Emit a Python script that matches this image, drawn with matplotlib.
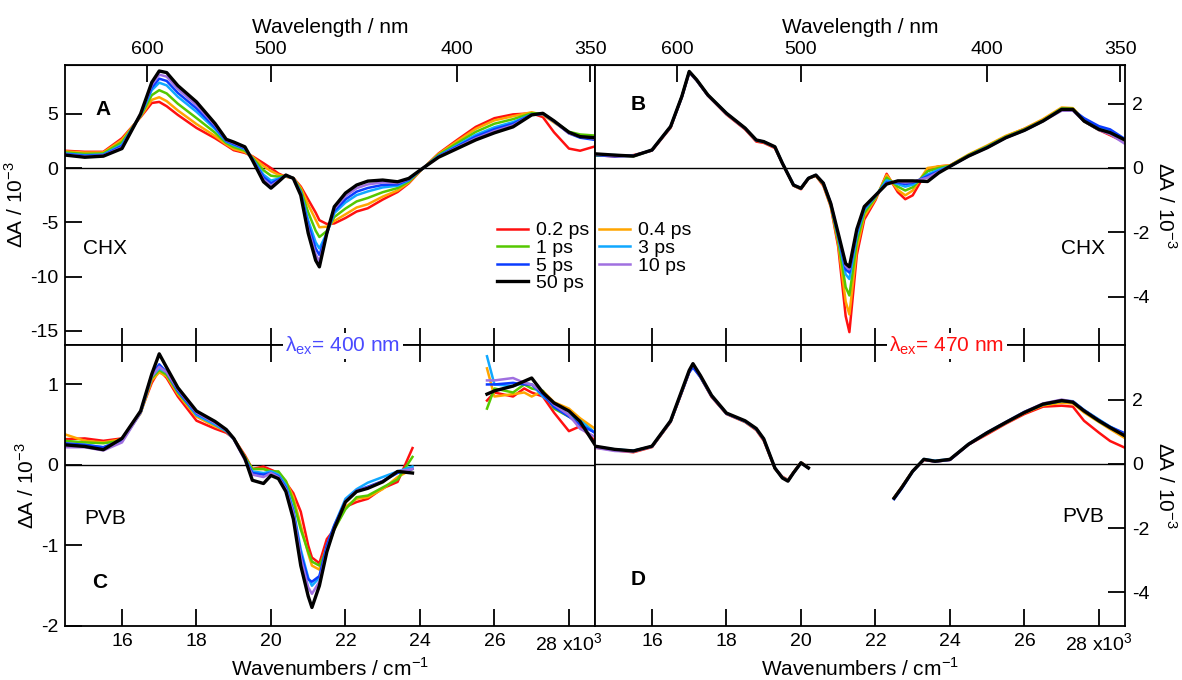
import numpy as np
import matplotlib
matplotlib.use("Agg")
from matplotlib import pyplot as plt

plt.rcParams['font.family'] = ['Liberation Sans', 'DejaVu Sans']
plt.rcParams['axes.unicode_minus'] = False
plt.rcParams['font.size'] = 13

nan = np.nan
delays = ['0.2 ps', '0.4 ps', '1 ps', '3 ps', '5 ps', '10 ps', '50 ps']
colors = ['#ff1010', '#ffa500', '#55c800', '#10a8ff', '#0a3cff', '#a070e0', '#000000']

# wavenumbers in 10^3 cm^-1
nu_A = [14.47, 15.0, 15.5, 16.0, 16.5, 16.8, 17.0, 17.2, 17.5, 18.0, 18.5, 18.8, 19.0, 19.3, 19.5,
        19.8, 20.0, 20.2, 20.4, 20.6, 20.8, 21.0, 21.2, 21.3, 21.5, 21.7, 22.0, 22.3, 22.6, 23.0,
        23.4, 23.7, 24.0, 24.5, 25.0, 25.5, 26.0, 26.5, 27.0, 27.3, 27.6, 28.0, 28.3, 28.7]
A_02 = [1.6, 1.5, 1.5, 2.75, 4.7, 6.0, 6.1, 5.7, 4.9, 3.7, 2.75, 2.1, 1.65, 1.4, 1.1, 0.45, 0.0, -0.5,
        -0.8, -0.9, -1.7, -2.9, -4.1, -4.8, -5.15, -5.1, -4.6, -4.0, -3.7, -2.9, -2.2, -1.4, -0.3, 1.35,
        2.6, 3.8, 4.6, 4.95, 5.05, 4.7, 3.3, 1.8, 1.6, 2.0]
A_04 = [1.54, 1.43, 1.44, 2.61, 4.75, 6.29, 6.53, 6.17, 5.31, 4.06, 2.95, 2.18, 1.76, 1.48, 1.05, 0.19,
        -0.28, -0.61, -0.78, -0.91, -1.82, -3.37, -4.76, -5.45, -5.40, -4.87, -4.26, -3.63, -3.33, -2.63,
        -2.06, -1.33, -0.28, 1.30, 2.48, 3.62, 4.40, 4.78, 5.15, 4.90, 4.20, 3.30, 3.00, 2.90]
A_1 = [1.45, 1.31, 1.35, 2.39, 4.81, 6.72, 7.18, 6.88, 5.93, 4.61, 3.26, 2.31, 1.94, 1.61, 0.96, -0.20,
       -0.70, -0.79, -0.74, -0.92, -2.00, -4.08, -5.77, -6.35, -5.80, -4.51, -3.73, -3.07, -2.75, -2.22,
       -1.84, -1.23, -0.26, 1.22, 2.30, 3.34, 4.09, 4.51, 5.05, 5.05, 4.30, 3.35, 3.10, 3.00]
A_3 = [1.35, 1.19, 1.25, 2.16, 4.89, 7.18, 7.87, 7.62, 6.57, 5.19, 3.59, 2.44, 2.12, 1.75, 0.88, -0.61,
       -1.15, -0.97, -0.70, -0.93, -2.20, -4.82, -6.83, -7.40, -6.00, -4.15, -3.17, -2.49, -2.15, -1.78,
       -1.62, -1.12, -0.24, 1.13, 2.10, 3.06, 3.76, 4.24, 4.95, 5.00, 4.30, 3.30, 2.90, 2.70]
A_5 = [1.30, 1.13, 1.20, 2.04, 4.93, 7.43, 8.24, 8.03, 6.93, 5.50, 3.76, 2.51, 2.21, 1.82, 0.83, -0.83,
       -1.39, -1.07, -0.68, -0.94, -2.30, -5.23, -7.40, -8.00, -6.00, -3.95, -2.88, -2.17, -1.83, -1.55,
       -1.50, -1.06, -0.23, 1.09, 2.00, 2.90, 3.59, 4.09, 4.93, 5.00, 4.30, 3.20, 2.80, 2.60]
A_10 = [1.25, 1.06, 1.15, 1.91, 4.96, 7.67, 8.61, 8.43, 7.28, 5.81, 3.94, 2.58, 2.31, 1.89, 0.78, -1.05,
        -1.63, -1.17, -0.66, -0.94, -2.40, -5.63, -7.97, -8.58, -6.00, -3.75, -2.58, -1.85, -1.50, -1.32,
        -1.37, -1.00, -0.21, 1.04, 1.90, 2.74, 3.41, 3.94, 4.90, 5.00, 4.30, 3.20, 2.90, 2.70]
A_50 = [1.2, 1.0, 1.1, 1.8, 5.0, 7.9, 8.95, 8.8, 7.6, 6.1, 4.1, 2.65, 2.4, 1.96, 0.74, -1.26, -1.85, -1.26,
        -0.64, -0.95, -2.5, -6.0, -8.5, -9.1, -6.0, -3.56, -2.3, -1.56, -1.2, -1.1, -1.26, -0.95, -0.2, 1.0,
        1.8, 2.6, 3.25, 3.8, 4.9, 5.05, 4.35, 3.3, 2.9, 2.8]

nu_B = [14.47, 15.0, 15.5, 16.0, 16.5, 16.8, 17.0, 17.2, 17.5, 18.0, 18.5, 18.8, 19.0, 19.3, 19.5,
        19.8, 20.0, 20.2, 20.4, 20.6, 20.8, 21.0, 21.2, 21.3, 21.5, 21.7, 22.0, 22.3, 22.6, 22.8,
        23.0, 23.4, 23.7, 24.0, 24.5, 25.0, 25.5, 26.0, 26.5, 27.0, 27.3, 27.6, 28.0, 28.3, 28.7]
B_02 = [0.40, 0.36, 0.40, 0.54, 1.25, 2.20, 2.97, 2.72, 2.25, 1.66, 1.20, 0.82, 0.78, 0.62, 0.14, -0.55,
        -0.66, -0.33, -0.24, -0.55, -1.20, -2.45, -4.60, -5.10, -2.70, -1.60, -1.00, -0.18, -0.75, -0.97,
        -0.85, -0.05, 0.05, 0.08, 0.40, 0.68, 0.98, 1.22, 1.50, 1.85, 1.84, 1.45, 1.18, 1.02, 0.80]
B_04 = [0.42, 0.38, 0.38, 0.55, 1.27, 2.21, 2.98, 2.73, 2.26, 1.68, 1.22, 0.85, 0.80, 0.64, 0.15, -0.54,
        -0.65, -0.33, -0.23, -0.52, -1.18, -2.35, -4.15, -4.55, -2.50, -1.50, -0.96, -0.22, -0.68, -0.85,
        -0.70, 0.00, 0.05, 0.08, 0.42, 0.70, 1.00, 1.22, 1.52, 1.88, 1.86, 1.50, 1.22, 1.05, 0.82]
B_1 = [0.38, 0.40, 0.36, 0.55, 1.28, 2.22, 2.99, 2.74, 2.27, 1.69, 1.23, 0.86, 0.81, 0.65, 0.15, -0.54,
       -0.64, -0.32, -0.23, -0.50, -1.15, -2.25, -3.70, -3.96, -2.30, -1.40, -0.92, -0.30, -0.58, -0.70,
       -0.60, -0.10, 0.00, 0.07, 0.40, 0.67, 0.97, 1.20, 1.48, 1.85, 1.84, 1.45, 1.18, 1.12, 0.85]
B_3 = [0.42, 0.40, 0.38, 0.56, 1.28, 2.20, 2.98, 2.72, 2.26, 1.70, 1.23, 0.86, 0.82, 0.65, 0.15, -0.53,
       -0.64, -0.32, -0.22, -0.48, -1.12, -2.15, -3.30, -3.45, -2.10, -1.30, -0.88, -0.38, -0.50, -0.58,
       -0.52, -0.20, -0.05, 0.05, 0.38, 0.65, 0.95, 1.18, 1.47, 1.83, 1.82, 1.50, 1.25, 1.15, 0.85]
B_5 = [0.40, 0.36, 0.38, 0.55, 1.28, 2.21, 2.99, 2.73, 2.26, 1.69, 1.23, 0.86, 0.81, 0.65, 0.15, -0.53,
       -0.63, -0.32, -0.22, -0.47, -1.10, -2.10, -3.15, -3.25, -2.00, -1.25, -0.87, -0.45, -0.45, -0.50,
       -0.46, -0.25, -0.10, 0.05, 0.37, 0.64, 0.94, 1.17, 1.46, 1.82, 1.80, 1.55, 1.30, 1.20, 0.90]
B_10 = [0.42, 0.38, 0.37, 0.55, 1.28, 2.20, 2.96, 2.72, 2.25, 1.68, 1.22, 0.86, 0.81, 0.65, 0.15, -0.53,
        -0.63, -0.32, -0.22, -0.47, -1.10, -2.07, -3.05, -3.15, -1.95, -1.22, -0.86, -0.48, -0.42, -0.45,
        -0.43, -0.30, -0.12, 0.05, 0.37, 0.63, 0.94, 1.17, 1.46, 1.78, 1.78, 1.45, 1.18, 1.05, 0.75]
B_50 = [0.44, 0.40, 0.37, 0.56, 1.29, 2.22, 3.00, 2.74, 2.27, 1.70, 1.24, 0.87, 0.82, 0.66, 0.15, -0.53,
        -0.63, -0.32, -0.22, -0.47, -1.10, -2.03, -2.97, -3.07, -1.90, -1.20, -0.85, -0.50, -0.40, -0.40,
        -0.40, -0.42, -0.15, 0.05, 0.37, 0.63, 0.94, 1.17, 1.46, 1.82, 1.82, 1.46, 1.20, 1.10, 0.87]

nu_C = [14.47, 15.0, 15.5, 16.0, 16.5, 16.8, 17.0, 17.2, 17.5, 18.0, 18.5, 18.8, 19.0, 19.3, 19.5,
        19.8, 20.0, 20.2, 20.4, 20.6, 20.8, 21.0, 21.1, 21.3, 21.5, 21.7, 22.0, 22.3, 22.6, 23.0,
        23.4, 23.8, 24.8, 25.8, 26.0, 26.5, 26.8, 27.0, 27.3, 27.6, 28.0, 28.3, 28.7]
C_02 = [0.32, 0.33, 0.30, 0.33, 0.66, 1.02, 1.18, 1.08, 0.85, 0.55, 0.45, 0.40, 0.33, 0.12, -0.05, -0.02,
        -0.06, -0.10, -0.22, -0.35, -0.58, -1.00, -1.15, -1.22, -0.92, -0.80, -0.52, -0.46, -0.42, -0.29,
        -0.21, 0.21, nan, 0.80, 0.90, 0.85, 0.95, 0.90, 0.85, 0.65, 0.42, 0.48, 0.30]
C_04 = [0.38, 0.30, 0.28, 0.32, 0.64, 1.05, 1.15, 1.10, 0.88, 0.60, 0.48, 0.42, 0.33, 0.10, -0.05, -0.05,
        -0.08, -0.10, -0.20, -0.40, -0.75, -1.10, -1.25, -1.30, -1.00, -0.78, -0.52, -0.42, -0.40, -0.30,
        -0.15, -0.05, nan, 1.20, 0.85, 0.88, 0.90, 0.85, 0.92, 0.78, 0.70, 0.58, 0.45]
C_1 = [0.30, 0.28, 0.27, 0.30, 0.65, 1.08, 1.18, 1.12, 0.90, 0.62, 0.50, 0.42, 0.33, 0.10, -0.05, -0.05,
       -0.08, -0.08, -0.20, -0.45, -0.80, -1.08, -1.20, -1.25, -1.05, -0.80, -0.55, -0.40, -0.38, -0.28,
       -0.18, 0.10, nan, 0.70, 0.95, 0.90, 1.00, 0.95, 0.92, 0.70, 0.60, 0.55, 0.40]
C_3 = [0.25, 0.25, 0.22, 0.30, 0.65, 1.10, 1.20, 1.15, 0.92, 0.62, 0.50, 0.42, 0.32, 0.08, -0.08, -0.10,
       -0.08, -0.12, -0.25, -0.55, -1.05, -1.40, -1.50, -1.40, -1.00, -0.75, -0.42, -0.30, -0.22, -0.15,
       -0.08, -0.02, nan, 1.35, 1.00, 0.98, 1.02, 1.00, 0.85, 0.75, 0.62, 0.55, 0.40]
C_5 = [0.27, 0.25, 0.22, 0.31, 0.66, 1.12, 1.25, 1.15, 0.92, 0.64, 0.52, 0.43, 0.33, 0.08, -0.10, -0.12,
       -0.10, -0.14, -0.28, -0.58, -1.10, -1.42, -1.45, -1.38, -1.00, -0.75, -0.45, -0.32, -0.27, -0.20,
       -0.10, -0.05, nan, 1.00, 1.00, 1.02, 1.00, 1.00, 0.88, 0.72, 0.60, 0.50, 0.40]
C_10 = [0.22, 0.22, 0.18, 0.28, 0.65, 1.10, 1.22, 1.15, 0.94, 0.65, 0.52, 0.43, 0.32, 0.06, -0.12, -0.15,
        -0.10, -0.15, -0.30, -0.60, -1.15, -1.52, -1.60, -1.45, -1.05, -0.78, -0.45, -0.32, -0.28, -0.20,
        -0.08, -0.05, nan, 1.05, 1.05, 1.08, 1.02, 1.00, 0.90, 0.75, 0.62, 0.45, 0.35]
C_50 = [0.25, 0.23, 0.19, 0.33, 0.67, 1.13, 1.38, 1.21, 0.96, 0.67, 0.54, 0.44, 0.33, 0.08, -0.19, -0.23,
        -0.13, -0.17, -0.33, -0.67, -1.25, -1.63, -1.77, -1.50, -1.08, -0.79, -0.46, -0.33, -0.29, -0.21,
        -0.08, -0.10, nan, 0.88, 0.92, 0.98, 1.04, 1.08, 0.90, 0.77, 0.67, 0.54, 0.25]

nu_D = [14.47, 15.0, 15.5, 16.0, 16.5, 16.8, 17.0, 17.1, 17.3, 17.6, 18.0, 18.5, 18.8, 19.0, 19.3,
        19.5, 19.65, 19.8, 20.0, 20.2, 21.3, 22.5, 22.7, 23.0, 23.3, 23.6, 24.0, 24.5, 25.0, 25.5,
        26.0, 26.5, 27.0, 27.3, 27.6, 28.0, 28.3, 28.7]
D_02 = [0.52, 0.42, 0.36, 0.52, 1.30, 2.22, 2.85, 3.05, 2.70, 2.08, 1.55, 1.30, 1.05, 0.72, -0.15, -0.40,
        -0.50, -0.26, 0.05, -0.12, nan, -1.05, -0.73, -0.22, 0.12, 0.07, 0.12, 0.60, 0.92, 1.25, 1.55,
        1.78, 1.81, 1.78, 1.34, 0.97, 0.71, 0.50]
D_04 = [0.50, 0.44, 0.38, 0.53, 1.31, 2.24, 2.87, 3.07, 2.71, 2.10, 1.56, 1.31, 1.07, 0.75, -0.14, -0.42,
        -0.52, -0.27, 0.04, -0.12, nan, -1.06, -0.74, -0.22, 0.13, 0.08, 0.13, 0.61, 0.95, 1.27, 1.58,
        1.82, 1.90, 1.88, 1.60, 1.30, 1.08, 0.80]
D_1 = [0.52, 0.44, 0.40, 0.54, 1.32, 2.25, 2.88, 3.08, 2.72, 2.11, 1.57, 1.32, 1.08, 0.76, -0.14, -0.42,
       -0.52, -0.27, 0.04, -0.12, nan, -1.06, -0.74, -0.22, 0.14, 0.08, 0.13, 0.62, 0.96, 1.28, 1.60,
       1.84, 1.95, 1.92, 1.65, 1.32, 1.12, 0.88]
D_3 = [0.53, 0.45, 0.41, 0.54, 1.32, 2.25, 2.88, 3.06, 2.72, 2.12, 1.57, 1.32, 1.08, 0.76, -0.13, -0.43,
       -0.53, -0.28, 0.03, -0.12, nan, -1.08, -0.76, -0.23, 0.15, 0.10, 0.14, 0.62, 0.98, 1.30, 1.62,
       1.86, 1.97, 1.95, 1.68, 1.38, 1.16, 0.92]
D_5 = [0.54, 0.44, 0.40, 0.54, 1.32, 2.24, 2.85, 3.00, 2.70, 2.10, 1.56, 1.32, 1.08, 0.76, -0.13, -0.43,
       -0.53, -0.28, 0.03, -0.13, nan, -1.10, -0.78, -0.24, 0.13, 0.07, 0.12, 0.60, 0.96, 1.28, 1.60,
       1.85, 1.96, 1.94, 1.67, 1.36, 1.15, 0.95]
D_10 = [0.50, 0.40, 0.38, 0.53, 1.33, 2.26, 2.90, 3.10, 2.74, 2.12, 1.57, 1.33, 1.09, 0.77, -0.13, -0.43,
        -0.53, -0.28, 0.03, -0.12, nan, -1.07, -0.75, -0.22, 0.14, 0.08, 0.14, 0.62, 0.98, 1.30, 1.62,
        1.88, 2.00, 1.94, 1.66, 1.35, 1.12, 0.90]
D_50 = [0.55, 0.45, 0.40, 0.55, 1.34, 2.28, 2.91, 3.12, 2.75, 2.13, 1.58, 1.34, 1.10, 0.78, -0.13, -0.44,
        -0.54, -0.28, 0.03, -0.13, nan, -1.07, -0.75, -0.23, 0.14, 0.08, 0.14, 0.61, 0.97, 1.29, 1.60,
        1.86, 1.97, 1.92, 1.65, 1.34, 1.13, 0.87]

W, H = 1182, 680
fig = plt.figure(figsize=(W / 100, H / 100), dpi=100)
axA = fig.add_axes([65 / W, 1 - 345 / H, 530 / W, 280 / H])
axB = fig.add_axes([595 / W, 1 - 345 / H, 530 / W, 280 / H])
axC = fig.add_axes([65 / W, 1 - 626 / H, 530 / W, 281 / H])
axD = fig.add_axes([595 / W, 1 - 626 / H, 530 / W, 281 / H])

panels = [
    (axA, nu_A, [A_02, A_04, A_1, A_3, A_5, A_10, A_50], (-16.3, 9.5), [-15, -10, -5, 0, 5]),
    (axB, nu_B, [B_02, B_04, B_1, B_3, B_5, B_10, B_50], (-5.5, 3.2), [-4, -2, 0, 2]),
    (axC, nu_C, [C_02, C_04, C_1, C_3, C_5, C_10, C_50], (-2.0, 1.49), [-2, -1, 0, 1]),
    (axD, nu_D, [D_02, D_04, D_1, D_3, D_5, D_10, D_50], (-5.05, 3.7), [-4, -2, 0, 2]),
]

def inv(x):
    x = np.asarray(x, dtype=float)
    with np.errstate(divide='ignore'):
        return 1e4 / x

ylab = r'ΔA / 10$^{\mathregular{-3}}$'
xticks = [16, 18, 20, 22, 24, 26, 28]
for i, (ax, nu, series, ylim, yt) in enumerate(panels):
    handles = []
    for s, c, lab in zip(series, colors, delays):
        lw = 2.4 if c == '#000000' else 1.8
        h, = ax.plot(nu, s, color=c, lw=lw, label=lab)
        handles.append(h)
    ax.axhline(0, color='k', lw=1.0, zorder=1)
    ax.set_xlim(14.47, 28.7)
    ax.set_ylim(*ylim)
    ax.set_yticks(yt)
    ax.set_xticks(xticks)
    for sp in ax.spines.values():
        sp.set_linewidth(1.3)
    ax.tick_params(direction='in', length=12, width=1.3, labelsize=14, pad=5)
    right = i in (1, 3)
    top = i in (0, 1)
    ax.tick_params(axis='y', left=not right, right=right, labelleft=not right, labelright=right)
    if right:
        ax.yaxis.set_label_position('right')
        ax.set_ylabel(ylab, rotation=270, labelpad=20, fontsize=15)
    else:
        ax.set_ylabel(ylab, labelpad=2, fontsize=15)
    if top:
        ax.tick_params(axis='x', bottom=True, top=False, labelbottom=False)
        sec = ax.secondary_xaxis('top', functions=(inv, inv))
        sec.set_xticks([600, 500, 400, 350])
        sec.tick_params(direction='in', length=12, width=1.3, labelsize=14, pad=5)
        sec.set_xlabel('Wavelength / nm', fontsize=15, labelpad=6)
    else:
        ax.tick_params(axis='x', bottom=True, top=True, labelbottom=True)
        ax.set_xticklabels(['16', '18', '20', '22', '24', '26', '28 x10$^{\mathregular{3}}$'])
        ax.set_xlabel('Wavenumbers / cm$^{\mathregular{-1}}$', fontsize=15, labelpad=1)

# panel annotations
axA.text(0.058, 0.84, 'A', transform=axA.transAxes, fontsize=15, fontweight='bold', va='center')
axB.text(0.068, 0.86, 'B', transform=axB.transAxes, fontsize=15, fontweight='bold', va='center')
axC.text(0.051, 0.155, 'C', transform=axC.transAxes, fontsize=15, fontweight='bold', va='center')
axD.text(0.068, 0.165, 'D', transform=axD.transAxes, fontsize=15, fontweight='bold', va='center')
axA.text(0.034, 0.346, 'CHX', transform=axA.transAxes, fontsize=15, va='center')
axB.text(0.879, 0.346, 'CHX', transform=axB.transAxes, fontsize=15, va='center')
axC.text(0.037, 0.384, 'PVB', transform=axC.transAxes, fontsize=15, va='center')
axD.text(0.881, 0.391, 'PVB', transform=axD.transAxes, fontsize=15, va='center')

fig.text(343 / W, 1 - 346 / H, r'λ$_{\mathregular{ex}}$= 400 nm', color='#4a4aff', fontsize=15,
         ha='center', va='center', bbox=dict(facecolor='white', edgecolor='none', pad=1.5))
fig.text(947 / W, 1 - 346 / H, r'λ$_{\mathregular{ex}}$= 470 nm', color='#ff1010', fontsize=15,
         ha='center', va='center', bbox=dict(facecolor='white', edgecolor='none', pad=1.5))

order = [0, 2, 4, 6, 1, 3, 5]
fig.legend([handles[k] for k in order], [delays[k] for k in order], ncol=2, frameon=False,
           loc='center', bbox_to_anchor=(594 / W, 1 - 257 / H), fontsize=14,
           handlelength=1.6, handletextpad=0.4, labelspacing=0.0, columnspacing=0.5)

fig.savefig('out.png', dpi=100)
